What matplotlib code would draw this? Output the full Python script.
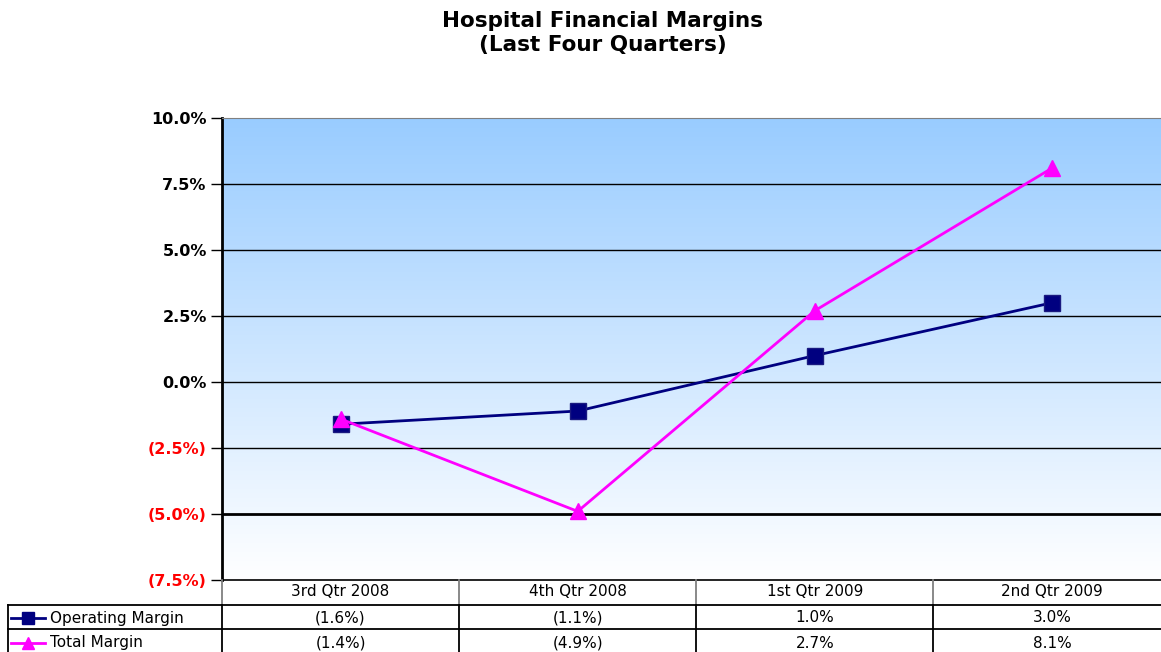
import numpy as np
import matplotlib
matplotlib.use("Agg")
import matplotlib.pyplot as plt
import matplotlib.transforms as mtransforms
from matplotlib.lines import Line2D

# data
quarters = ["3rd Qtr 2008", "4th Qtr 2008", "1st Qtr 2009", "2nd Qtr 2009"]
operating_margin = [-1.6, -1.1, 1.0, 3.0]
total_margin = [-1.4, -4.9, 2.7, 8.1]
y_ticks = [-7.5, -5.0, -2.5, 0.0, 2.5, 5.0, 7.5, 10.0]

W, H = 1161, 652
plt.rcParams["font.family"] = "DejaVu Sans"


def pct(v):
    return f"({abs(v):.1f}%)" if v < 0 else f"{v:.1f}%"


fig = plt.figure(figsize=(W / 100, H / 100), dpi=100)
fig.patch.set_facecolor("white")

# pixel-space overlay for table
ax_t = fig.add_axes([0, 0, 1, 1], zorder=3)
ax_t.set_xlim(0, W)
ax_t.set_ylim(H, 0)
ax_t.axis("off")
ax_t.patch.set_alpha(0)

left, right, top, bottom = 222, 1170.5, 118, 580
ax = fig.add_axes([left / W, (H - bottom) / H, (right - left) / W, (bottom - top) / H], zorder=2)
x = np.arange(len(quarters))
ax.set_xlim(-0.5, len(quarters) - 0.5)
ax.set_ylim(-7.5, 10)

# gradient background
t = np.linspace(0, 1, 256)[:, None]
top_c = np.array([153, 204, 255]) / 255
grad = top_c * (1 - t[..., None]) + np.ones(3) * t[..., None]
ax.imshow(grad, extent=[-0.5, len(quarters) - 0.5, -7.5, 10], aspect="auto",
          origin="upper", zorder=0)

for v in y_ticks[1:-1]:
    ax.axhline(v, color="black", lw=2.0 if v == -5.0 else 1.0, zorder=1)

ax.plot(x, operating_margin, color="#000080", lw=2, marker="s", ms=12,
        markeredgecolor="#1a1a80", zorder=4, label="Operating Margin")
ax.plot(x, total_margin, color="#FF00FF", lw=2, marker="^", ms=12,
        zorder=5, label="Total Margin")

ax.set_yticks(y_ticks)
ax.set_yticklabels([pct(v) for v in y_ticks], fontsize=11.5, fontweight="bold")
for lab, v in zip(ax.get_yticklabels(), y_ticks):
    lab.set_color("red" if v < 0 else "black")
ax.tick_params(axis="y", length=8, width=1, direction="out", pad=3)
ax.set_xticks([])
ax.spines["left"].set_linewidth(2)
ax.spines["left"].set_color("black")
ax.spines["bottom"].set_color("black")
ax.spines["bottom"].set_linewidth(1.2)
ax.spines["top"].set_color("#808080")
ax.spines["right"].set_visible(False)

fig.text(603 / W, 1 - 33 / H, "Hospital Financial Margins\n(Last Four Quarters)",
         ha="center", va="center", fontsize=15.5, fontweight="bold", linespacing=1.25)

# data table below the plot: x in data coords, y in pixels
tr = mtransforms.blended_transform_factory(ax.transData, ax_t.transData)
row_y = [580, 605, 629, 653]
edges = np.arange(len(quarters) + 1) - 0.5
xmax = len(quarters) - 0.5

for i, e in enumerate(edges):
    c = "#808080"
    ax_t.add_line(Line2D([e, e], [row_y[0], row_y[1]], color=c, lw=1.3, transform=tr, clip_on=False))
    ax_t.add_line(Line2D([e, e], [row_y[1], H], color="black", lw=1.3, transform=tr, clip_on=False))
ax_t.plot([8, 8], [row_y[1], H], color="black", lw=1.3)
for yy in row_y[1:3]:
    ax_t.plot([8, 222], [yy, yy], color="black", lw=1.3)
    ax_t.add_line(Line2D([-0.5, xmax], [yy, yy], color="black", lw=1.3, transform=tr, clip_on=False))

for i, q in enumerate(quarters):
    ax_t.text(x[i], 592, q, transform=tr, ha="center", va="center", fontsize=11)
    ax_t.text(x[i], 618, pct(operating_margin[i]), transform=tr, ha="center", va="center", fontsize=11)
    ax_t.text(x[i], 643, pct(total_margin[i]), transform=tr, ha="center", va="center", fontsize=11)

series = [("Operating Margin", "#000080", "s", 618), ("Total Margin", "#FF00FF", "^", 643)]
for name, col, mk, yy in series:
    ax_t.plot([11, 45], [yy, yy], color=col, lw=2)
    ax_t.plot([28], [yy], color=col, marker=mk, ms=9, lw=0)
    ax_t.text(50, yy, name, ha="left", va="center", fontsize=11)

fig.savefig("out.png", dpi=100)
